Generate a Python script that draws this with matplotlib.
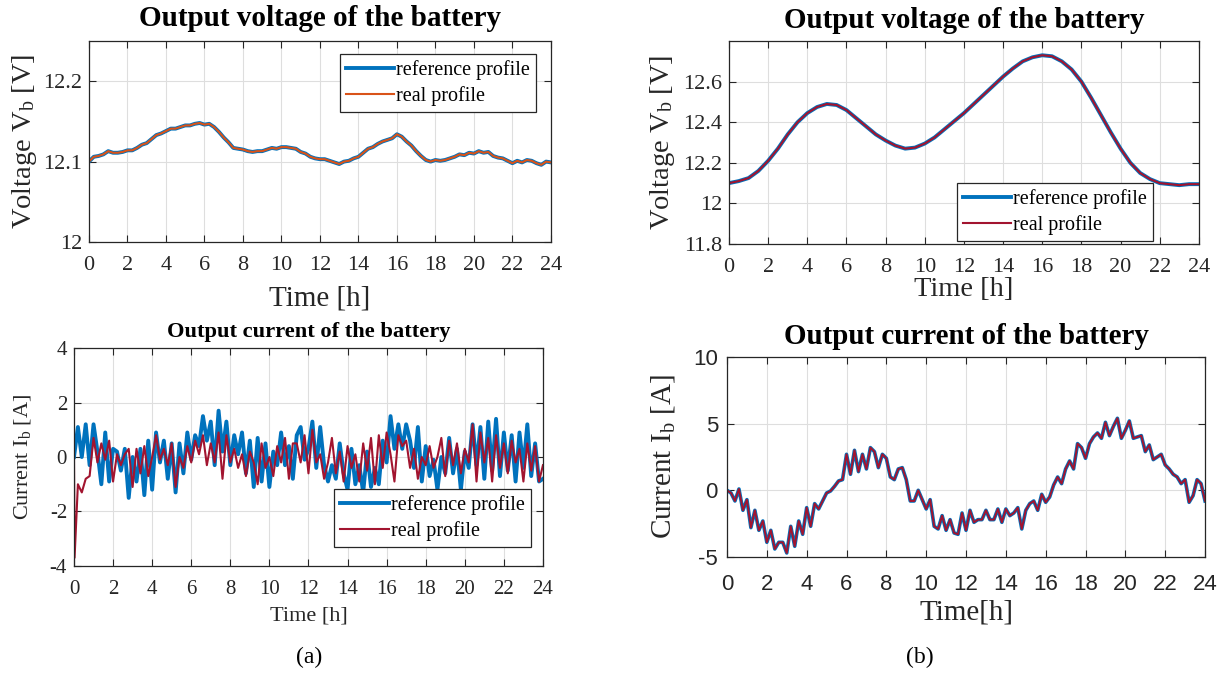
import numpy as np
import matplotlib
matplotlib.use("Agg")
import matplotlib.pyplot as plt

plt.rcParams['font.family'] = ['Liberation Serif', 'DejaVu Serif']
plt.rcParams['mathtext.fontset'] = 'custom'
plt.rcParams['mathtext.rm'] = 'Liberation Serif'
plt.rcParams['mathtext.it'] = 'Liberation Serif:italic'
plt.rcParams['axes.unicode_minus'] = False

BLUE = '#0072BD'
ORANGE = '#D95319'
RED = '#A2142F'

# (a) battery voltage, 0.25 h samples
va_ref = [12.100, 12.106, 12.107, 12.109, 12.113, 12.111, 12.111, 12.112, 12.114,
          12.114, 12.117, 12.121, 12.123, 12.128, 12.133, 12.135, 12.138,
          12.141, 12.141, 12.143, 12.145, 12.145, 12.147, 12.148, 12.146,
          12.147, 12.143, 12.137, 12.130, 12.124, 12.117, 12.116, 12.115,
          12.113, 12.112, 12.113, 12.113, 12.115, 12.117, 12.116, 12.118,
          12.118, 12.117, 12.116, 12.112, 12.110, 12.106, 12.104, 12.103,
          12.103, 12.101, 12.099, 12.097, 12.100, 12.101, 12.104, 12.106,
          12.111, 12.116, 12.118, 12.122, 12.125, 12.127, 12.129, 12.134,
          12.131, 12.125, 12.120, 12.113, 12.107, 12.102, 12.100, 12.102,
          12.101, 12.102, 12.104, 12.106, 12.109, 12.108, 12.111, 12.110,
          12.113, 12.111, 12.112, 12.107, 12.105, 12.104, 12.101, 12.098,
          12.101, 12.099, 12.102, 12.101, 12.098, 12.096, 12.100, 12.099]
va_start = 12.0

# (a) battery current, 0.2 h samples
ia_ref = [0.0, 1.1, 0.0, 1.2, -0.3, 1.2, 0.2, -1.0, 0.9, -0.9,
          0.3, 0.2, -0.5, 0.3, -1.5, 0.0, -0.9, 0.3, -1.4, 0.6,
          -1.2, 0.9, -0.2, 0.6, -0.8, 0.5, -1.3, 0.5, -0.6, 0.9,
          -0.1, 0.8, 0.4, 1.5, 0.6, 1.3, -0.3, 1.7, 0.2, 1.3,
          -0.3, 0.8, 0.1, 0.9, -0.6, 0.6, -1.1, 0.7, -0.9, 0.5,
          -1.1, 0.2, -0.3, 0.9, -0.3, 0.4, -0.8, 0.8, 1.1, -0.1,
          0.3, 1.3, -0.4, 1.1, -0.3, -0.9, -0.3, -0.8, 0.5, -0.6,
          -1.2, 0.3, -1.0, -0.3, -1.3, 0.2, -1.1, -0.4, -1.0, 0.6,
          -0.2, 1.5, 0.3, 1.2, 0.3, 1.2, 0.6, -0.4, 1.1, -0.9,
          0.4, -0.7, -0.1, -1.2, 0.0, -0.6, 0.7, -0.6, 0.3, -1.2,
          0.2, -0.4, 1.2, -0.3, 1.1, -0.8, 1.3, -0.5, 1.4, -0.7,
          0.9, -0.5, 0.8, -0.9, 0.9, -0.4, 1.2, -0.7, 0.5, -0.9,
          -0.8]
ia_real_start = [0.0, -3.7]
ia_real = [-1.0, -1.3, -0.8, -0.7, 0.7, -0.2, 0.5, -0.1, 0.6, -0.9,
           0.1, -0.3, 0.1, 0.3, -1.1, 0.3, -0.6, 0.4, -0.7, 0.0,
           0.8, -0.1, 0.3, -0.3, 0.5, -1.1, 0.0, -0.4, 0.4, -0.2,
           0.6, 0.1, 0.8, -0.3, 0.5, -0.2, 0.9, -0.8, 0.8, -0.2,
           0.3, -0.4, 0.1, -0.7, 0.2, -0.2, -1.0, 0.5, -0.4, 0.0,
           -0.7, 0.4, -0.2, 0.7, -0.8, 0.5, 0.5, -0.2, 0.8, -0.6,
           1.0, -0.2, 0.1, -0.8, -0.2, 0.7, -0.6, 0.2, -0.9, 0.4,
           -0.4, 0.1, -0.9, 0.5, -0.5, 0.7, -1.0, 0.8, -0.4, 0.9,
           0.1, -0.9, 0.8, 0.4, 0.6, -0.4, 0.3, -0.8, 0.0, -0.3,
           0.4, -0.4, 0.0, 0.7, -0.7, 0.6, -0.3, 0.5, -0.6, 0.3,
           -0.2, 1.2, -0.9, 0.9, -0.2, 0.7, -0.9, 0.8, -0.4, 0.5,
           -0.6, 0.6, -0.2, 0.3, -0.9, 0.5, -0.5, 0.4, -0.9, -0.3]

# (b) battery voltage, 0.5 h samples
vb_ref = [12.10, 12.11, 12.125, 12.16, 12.21, 12.27, 12.34, 12.40, 12.445, 12.475,
          12.49, 12.485, 12.46, 12.42, 12.38, 12.34, 12.31, 12.285, 12.27, 12.275,
          12.295, 12.325, 12.365, 12.405, 12.445, 12.49, 12.535, 12.58, 12.625, 12.665,
          12.70, 12.72, 12.73, 12.725, 12.70, 12.66, 12.60, 12.52, 12.435, 12.35,
          12.27, 12.20, 12.15, 12.12, 12.10, 12.095, 12.09, 12.095, 12.095]
vb_start = 12.0

# (b) battery current, 0.2 h samples
ib_ref = [0.0, -0.2, -0.8, 0.1, -1.5, -0.7, -2.8, -1.5, -3.0, -2.3,
          -3.9, -3.0, -4.4, -3.9, -3.9, -4.7, -2.7, -4.2, -2.3, -3.3,
          -1.3, -2.7, -1.0, -1.4, -0.8, -0.2, -0.05, 0.3, 0.7, 0.8,
          2.7, 1.2, 3.0, 1.4, 2.7, 1.6, 3.2, 2.9, 1.7, 2.7,
          2.4, 1.0, 0.8, 1.6, 1.7, 0.8, -0.8, -0.8, 0.0, -0.7,
          -1.4, -0.7, -2.7, -2.9, -1.9, -3.0, -2.2, -3.2, -3.3, -1.7,
          -3.0, -1.5, -2.4, -2.2, -2.2, -1.5, -2.2, -2.2, -1.4, -2.4,
          -1.4, -1.9, -1.7, -1.3, -2.9, -1.5, -1.0, -0.8, -1.5, -0.3,
          -0.9, -0.5, 0.4, 1.0, 0.5, 1.6, 2.2, 1.6, 3.5, 3.2,
          2.4, 3.5, 4.0, 4.3, 3.9, 5.1, 4.1, 4.8, 5.4, 3.9,
          4.5, 5.2, 3.9, 4.0, 4.1, 2.9, 3.4, 2.3, 2.5, 2.7,
          1.9, 1.6, 1.2, 1.0, 0.5, 0.8, -0.9, -0.4, 0.8, 0.5,
          -0.8]
ib_real = ib_ref

hour_ticks = np.arange(0, 25, 2)


def style_axes(ax, tick_size, xpad, ypad=5, tick_family=None):
    ax.set_xlim(0, 24)
    ax.set_xticks(hour_ticks)
    ax.grid(True, color='#dedede', lw=0.8)
    ax.set_axisbelow(True)
    ax.tick_params(direction='in', top=True, right=True, length=5,
                   width=0.8, color='#262626', labelsize=tick_size,
                   labelcolor='#262626')
    ax.tick_params(axis='x', pad=xpad)
    ax.tick_params(axis='y', pad=ypad)
    for sp in ax.spines.values():
        sp.set_color('#262626')
        sp.set_linewidth(0.9)
    if tick_family:
        for lab in ax.get_xticklabels() + ax.get_yticklabels():
            lab.set_family(tick_family)


def add_legend(ax, loc, anchor):
    leg = ax.legend(loc=loc, bbox_to_anchor=anchor, borderaxespad=0,
                    fancybox=False, edgecolor='#262626', framealpha=1,
                    fontsize=14.5, handlelength=2.4, handletextpad=0.1,
                    labelspacing=0.3, borderpad=0.3)
    leg.get_frame().set_linewidth(0.9)


fig = plt.figure(figsize=(12.27, 6.73), dpi=100)

# top left
ax1 = fig.add_axes([0.0725, 0.6404, 0.3765, 0.2987])
t_va = np.linspace(0, 24, len(va_ref))
ax1.plot(t_va, va_ref, color=BLUE, lw=2.8, label='reference profile')
ax1.plot(np.concatenate([[0], t_va]), [va_start] + va_ref, color=ORANGE,
         lw=1.5, label='real profile')
ax1.set_ylim(12, 12.25)
ax1.set_yticks([12, 12.1, 12.2])
ax1.set_yticklabels(['12', '12.1', '12.2'])
style_axes(ax1, 16, xpad=10)
ax1.text(0.5, 1.114, 'Output voltage of the battery', transform=ax1.transAxes,
         ha='center', va='center', fontsize=21, fontweight='bold')
ax1.set_xlabel('Time [h]', fontsize=21, color='#262626')
ax1.set_ylabel(r'Voltage V$_\mathrm{b}$ [V]', fontsize=20.5, color='#262626')
ax1.xaxis.set_label_coords(0.5, -0.214)
ax1.yaxis.set_label_coords(-0.108, 0.5)
add_legend(ax1, 'upper right', (0.9675, 0.935))

# top right
ax2 = fig.add_axes([0.5941, 0.6374, 0.3830, 0.3016])
t_vb = np.linspace(0, 24, len(vb_ref))
ax2.plot(t_vb, vb_ref, color=BLUE, lw=2.8, label='reference profile')
ax2.plot(np.concatenate([[0], t_vb]), [vb_start] + vb_ref, color=RED,
         lw=1.5, label='real profile')
ax2.set_ylim(11.8, 12.8)
ax2.set_yticks([11.8, 12, 12.2, 12.4, 12.6])
ax2.set_yticklabels(['11.8', '12', '12.2', '12.4', '12.6'])
style_axes(ax2, 16, xpad=10)
ax2.text(0.5, 1.103, 'Output voltage of the battery', transform=ax2.transAxes,
         ha='center', va='center', fontsize=20.9, fontweight='bold')
ax2.set_xlabel('Time [h]', fontsize=20.5, color='#262626')
ax2.set_ylabel(r'Voltage V$_\mathrm{b}$ [V]', fontsize=20.5, color='#262626')
ax2.xaxis.set_label_coords(0.5, -0.163)
ax2.yaxis.set_label_coords(-0.111, 0.5)
add_legend(ax2, 'lower right', (0.902, 0.015))

# bottom left
ax3 = fig.add_axes([0.0603, 0.1590, 0.3822, 0.3239])
t_ia = np.linspace(0, 24, len(ia_ref))
t_ia_real = np.concatenate([[0, 0.03], np.linspace(0.2, 24, len(ia_real))])
ax3.plot(t_ia, ia_ref, color=BLUE, lw=2.8, label='reference profile')
ax3.plot(t_ia_real, ia_real_start + ia_real, color=RED, lw=1.5,
         label='real profile')
ax3.set_ylim(-4, 4)
ax3.set_yticks([-4, -2, 0, 2, 4])
style_axes(ax3, 15, xpad=10)
ax3.text(0.5, 1.073, 'Output current of the battery', transform=ax3.transAxes,
         ha='center', va='center', fontsize=16.2, fontweight='bold')
ax3.set_xlabel('Time [h]', fontsize=16, color='#262626')
ax3.set_ylabel(r'Current I$_\mathrm{b}$ [A]', fontsize=16, color='#262626')
ax3.xaxis.set_label_coords(0.5, -0.188)
ax3.yaxis.set_label_coords(-0.087, 0.5)
add_legend(ax3, 'lower right', (0.974, 0.087))

# bottom right
ax4 = fig.add_axes([0.5925, 0.1724, 0.3896, 0.2972])
t_ib = np.linspace(0, 24, len(ib_ref))
ax4.plot(t_ib, ib_ref, color=BLUE, lw=2.6)
ax4.plot(t_ib, ib_real, color=RED, lw=1.4)
ax4.set_ylim(-5, 10)
ax4.set_yticks([-5, 0, 5, 10])
style_axes(ax4, 16, xpad=12, ypad=6.5, tick_family='Liberation Sans')
ax4.text(0.5, 1.10, 'Output current of the battery', transform=ax4.transAxes,
         ha='center', va='center', fontsize=20.9, fontweight='bold')
ax4.set_xlabel('Time[h]', fontsize=21, color='#262626')
ax4.set_ylabel(r'Current I$_\mathrm{b}$ [A]', fontsize=21, color='#262626')
ax4.xaxis.set_label_coords(0.5, -0.215)
ax4.yaxis.set_label_coords(-0.105, 0.5)

fig.text(309 / 1227, 1 - 657 / 673, '(a)', ha='center', va='center', fontsize=17)
fig.text(920 / 1227, 1 - 657 / 673, '(b)', ha='center', va='center', fontsize=17)

fig.savefig('out.png', dpi=100, facecolor='white')
